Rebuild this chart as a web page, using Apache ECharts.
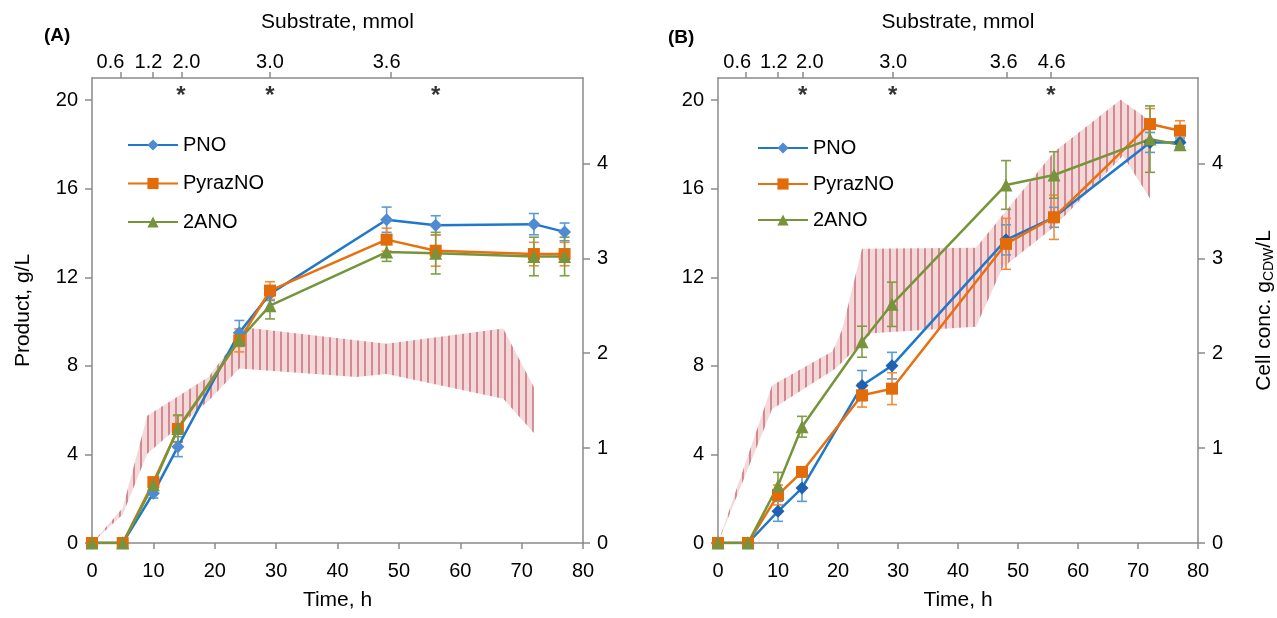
<!DOCTYPE html>
<html><head><meta charset="utf-8">
<script src="https://cdn.jsdelivr.net/npm/echarts@6/dist/echarts.min.js"></script>
<style>html,body{margin:0;padding:0;background:#fff}#c{width:1277px;height:618px}</style>
</head><body><div id="c"></div>
<script>
// ---------- DATA ----------
const seriesNames = ['PNO', 'PyrazNO', '2ANO'];
const xTicks = [0, 10, 20, 30, 40, 50, 60, 70, 80];
const leftTicks = [0, 4, 8, 12, 16, 20];
const rightTicks = [0, 1, 2, 3, 4];

// Panel A
const timeA = [0, 5, 10, 14, 24, 29, 48, 56, 72, 77];
const pnoA = [0, 0, 2.25, 4.35, 9.5, 11.25, 14.6, 14.35, 14.4, 14.05];
const pnoAErr = [0, 0, 0.22, 0.45, 0.55, 0.3, 0.57, 0.43, 0.48, 0.4];
const pyrA = [0, 0, 2.75, 5.15, 9.15, 11.4, 13.7, 13.2, 13.05, 13.05];
const pyrAErr = [0, 0, 0.15, 0.6, 0.52, 0.4, 0.52, 0.7, 0.53, 0.53];
const anoA = [0, 0, 2.63, 5.18, 9.18, 10.72, 13.14, 13.09, 12.94, 12.94];
const anoAErr = [0, 0, 0.15, 0.6, 0.3, 0.6, 0.42, 0.94, 0.87, 0.87];
const bandUpTA = [0, 5, 9, 19, 25, 48, 67, 72];
const bandUpA = [0, 0.37, 1.34, 1.75, 2.27, 2.1, 2.26, 1.64];
const bandLoTA = [0, 5, 9, 19, 24, 43, 48, 67, 72];
const bandLoA = [0, 0.3, 0.94, 1.5, 1.84, 1.75, 1.78, 1.52, 1.16];
const subTickA = [4.7, 9.9, 14.7, 29, 48.7];
const subLabPosA = [3.0, 9.2, 15.4, 29, 48];
const subLabA = ['0.6', '1.2', '2.0', '3.0', '3.6'];
const starTA = [14.5, 29, 56];

// Panel B
const timeB = [0, 5, 10, 14, 24, 29, 48, 56, 72, 77];
const pnoB = [0, 0, 1.43, 2.48, 7.11, 8.01, 13.69, 14.71, 18.09, 18.09];
const pnoBErr = [0, 0, 0.45, 0.6, 0.68, 0.6, 0.68, 0.45, 0.45, 0.2];
const pyrB = [0, 0, 2.17, 3.21, 6.67, 6.97, 13.51, 14.71, 18.92, 18.62];
const pyrBErr = [0, 0, 0.45, 0.2, 0.53, 0.72, 1.15, 1.0, 0.7, 0.45];
const anoB = [0, 0, 2.59, 5.25, 9.09, 10.78, 16.17, 16.62, 18.24, 17.99];
const anoBErr = [0, 0, 0.6, 0.47, 0.7, 1.0, 1.1, 1.05, 1.5, 0.2];
const bandUpTB = [0, 9, 19.1, 20.7, 24, 43, 56, 67.1, 72];
const bandUpB = [0, 1.66, 2.02, 2.25, 3.1, 3.11, 4.12, 4.67, 4.45];
const bandLoTB = [0, 9, 19.6, 25.6, 43, 47.4, 56, 67.5, 72];
const bandLoB = [0, 1.41, 1.84, 2.21, 2.28, 2.9, 3.33, 4.08, 3.63];
const subTickB = [4.6, 10, 14.1, 29.2, 48.1, 55.5];
const subLabPosB = [3.2, 9.3, 15.3, 29.2, 47.6, 55.6];
const subLabB = ['0.6', '1.2', '2.0', '3.0', '3.6', '4.6'];
const starTB = [14.1, 29.1, 55.5];
const starLevel = 20.15;

// ---------- STYLE ----------
const FONT = '"Liberation Sans", Arial, Helvetica, sans-serif';
const AX = '#8a8a8a';
const colLine = {PNO: '#1f78c9', PyrazNO: '#e8700f', '2ANO': '#76953a'};
const colErr = {PNO: '#5b9bd5', PyrazNO: '#f28b3c', '2ANO': '#7f9f44'};
const sym = {PNO: 'diamond', PyrazNO: 'rect', '2ANO': 'triangle'};
const symSize = {PNO: 13, PyrazNO: 12, '2ANO': 13};

const cv = document.createElement('canvas');
cv.width = 7; cv.height = 4;
const cx = cv.getContext('2d');
cx.fillStyle = '#f5d6d8'; cx.fillRect(0, 0, 7, 4);
cx.fillStyle = '#cf848c'; cx.fillRect(0, 0, 2, 4);
const hatch = {image: cv, repeat: 'repeat'};

function lineSeries(name, t, v, xi, yi, markerColor) {
  return {
    type: 'line', name: name, xAxisIndex: xi, yAxisIndex: yi, z: 4,
    data: t.map((x, i) => [x, v[i]]),
    symbol: sym[name], symbolSize: symSize[name],
    lineStyle: {color: colLine[name], width: 2.5},
    itemStyle: {color: markerColor || colLine[name]},
    animation: false
  };
}
function errSeries(name, t, v, e, xi, yi) {
  const c = colErr[name];
  return {
    type: 'custom', name: name + ' err', xAxisIndex: xi, yAxisIndex: yi, z: 3, silent: true,
    data: t.map((x, i) => [x, v[i] - e[i], v[i] + e[i]]),
    encode: {x: 0, y: [1, 2]},
    renderItem: function (params, api) {
      const x = api.value(0), lo = api.value(1), hi = api.value(2);
      if (hi - lo <= 0) return null;
      const a = api.coord([x, lo]), b = api.coord([x, hi]);
      const w = 5, st = {stroke: c, lineWidth: 1.6};
      return {type: 'group', children: [
        {type: 'line', shape: {x1: a[0], y1: a[1], x2: b[0], y2: b[1]}, style: st},
        {type: 'line', shape: {x1: a[0] - w, y1: a[1], x2: a[0] + w, y2: a[1]}, style: st},
        {type: 'line', shape: {x1: b[0] - w, y1: b[1], x2: b[0] + w, y2: b[1]}, style: st}
      ]};
    },
    animation: false
  };
}
function bandSeries(upT, up, loT, lo, xi, yi) {
  return {
    type: 'custom', name: 'cells', xAxisIndex: xi, yAxisIndex: yi, z: 1, silent: true,
    data: [[upT[0], up[0]]], encode: {x: 0, y: 1},
    renderItem: function (params, api) {
      const pts = [];
      upT.forEach((x, i) => pts.push(api.coord([x, up[i]])));
      for (let i = loT.length - 1; i >= 0; i--) pts.push(api.coord([loT[i], lo[i]]));
      return {type: 'polygon', shape: {points: pts}, style: {fill: hatch, opacity: 0.95}};
    },
    animation: false
  };
}
function starSeries(ts, xi, yi) {
  return {
    type: 'scatter', name: 'star', xAxisIndex: xi, yAxisIndex: yi, z: 5, silent: true,
    data: ts.map(x => [x, starLevel]), symbolSize: 1,
    itemStyle: {color: 'rgba(0,0,0,0)'},
    label: {show: true, formatter: '*', position: 'inside', fontSize: 24, fontWeight: 'bold', color: '#000', fontFamily: FONT},
    animation: false
  };
}

const lbl = {color: '#000', fontSize: 20, fontFamily: FONT};
function bottomAxis(gi) {
  return {gridIndex: gi, type: 'value', min: 0, max: 80, interval: 10, position: 'bottom',
    name: 'Time, h', nameLocation: 'middle', nameGap: 47,
    nameTextStyle: {color: '#000', fontSize: 21, fontFamily: FONT},
    axisLine: {show: true, onZero: false, lineStyle: {color: AX, width: 1.5}},
    axisTick: {show: true, length: 6, lineStyle: {color: AX, width: 1.5}},
    axisLabel: Object.assign({margin: 18}, lbl),
    splitLine: {show: false}};
}
function topAxis(gi, tickPos, labPos, labs) {
  return {gridIndex: gi, type: 'value', min: 0, max: 80, position: 'top',
    name: 'Substrate, mmol', nameLocation: 'middle', nameGap: 45,
    nameTextStyle: {color: '#000', fontSize: 21, fontFamily: FONT},
    axisLine: {show: true, onZero: false, lineStyle: {color: AX, width: 1.5}},
    axisTick: {show: true, length: 6, customValues: tickPos, lineStyle: {color: AX, width: 1.5}},
    axisLabel: Object.assign({margin: 6, customValues: labPos,
      formatter: v => { let k = 0, d = 1e9; labPos.forEach((p, i) => { if (Math.abs(p - v) < d) { d = Math.abs(p - v); k = i; } }); return labs[k]; }}, lbl),
    splitLine: {show: false}};
}
function leftAxis(gi, withName) {
  return {gridIndex: gi, type: 'value', min: 0, max: 21, position: 'left',
    name: withName ? 'Product, g/L' : '', nameLocation: 'middle', nameGap: 58,
    nameTextStyle: {color: '#000', fontSize: 21, fontFamily: FONT},
    axisLine: {show: true, onZero: false, lineStyle: {color: AX, width: 1.5}},
    axisTick: {show: true, length: 7, customValues: leftTicks, lineStyle: {color: AX, width: 1.5}},
    axisLabel: Object.assign({margin: 14, customValues: leftTicks}, lbl),
    splitLine: {show: false}};
}
function rightAxis(gi, withName) {
  return {gridIndex: gi, type: 'value', min: 0, max: 4.9, position: 'right',
    name: withName ? '{n|Cell conc. g}{s|CDW}{n|/L}' : '', nameLocation: 'middle', nameGap: 54, nameRotate: 90,
    nameTextStyle: {color: '#000', fontSize: 21, fontFamily: FONT,
      rich: {n: {fontSize: 21, lineHeight: 24, fontFamily: FONT, color: '#000'},
             s: {fontSize: 14, lineHeight: 10, verticalAlign: 'bottom', fontFamily: FONT, color: '#000'}}},
    axisLine: {show: true, onZero: false, lineStyle: {color: AX, width: 1.5}},
    axisTick: {show: true, length: 7, customValues: rightTicks, lineStyle: {color: AX, width: 1.5}},
    axisLabel: Object.assign({margin: 14, customValues: rightTicks}, lbl),
    splitLine: {show: false}};
}
function legendAt(left, top, gap) {
  return {data: seriesNames, left: left, top: top, orient: 'vertical', padding: 0, itemWidth: 50, itemHeight: 14,
    itemGap: gap, selectedMode: false, textStyle: {color: '#000', fontSize: 20, fontFamily: FONT}};
}

const option = {
  animation: false,
  textStyle: {fontFamily: FONT},
  grid: [
    {left: 92, top: 78, width: 491, height: 465},
    {left: 718, top: 78, width: 485, height: 465}
  ],
  xAxis: [bottomAxis(0), topAxis(0, subTickA, subLabPosA, subLabA), bottomAxis(1), topAxis(1, subTickB, subLabPosB, subLabB)],
  yAxis: [leftAxis(0, true), rightAxis(0, false), leftAxis(1, false), rightAxis(1, true)],
  legend: [legendAt(127, 135, 18.5), legendAt(757, 138, 16)],
  graphic: [
    {type: 'text', left: 44, top: 26, style: {text: '(A)', font: 'bold 19px ' + FONT, fill: '#000'}},
    {type: 'text', left: 668, top: 28, style: {text: '(B)', font: 'bold 19px ' + FONT, fill: '#000'}}
  ],
  series: [
    bandSeries(bandUpTA, bandUpA, bandLoTA, bandLoA, 0, 1),
    errSeries('PNO', timeA, pnoA, pnoAErr, 0, 0),
    errSeries('PyrazNO', timeA, pyrA, pyrAErr, 0, 0),
    errSeries('2ANO', timeA, anoA, anoAErr, 0, 0),
    lineSeries('PNO', timeA, pnoA, 0, 0, '#4f8bd0'),
    lineSeries('PyrazNO', timeA, pyrA, 0, 0, '#e36c0a'),
    lineSeries('2ANO', timeA, anoA, 0, 0, '#77933c'),
    starSeries(starTA, 0, 0),
    bandSeries(bandUpTB, bandUpB, bandLoTB, bandLoB, 2, 3),
    errSeries('PNO', timeB, pnoB, pnoBErr, 2, 2),
    errSeries('PyrazNO', timeB, pyrB, pyrBErr, 2, 2),
    errSeries('2ANO', timeB, anoB, anoBErr, 2, 2),
    lineSeries('PNO', timeB, pnoB, 2, 2, '#1f62b2'),
    lineSeries('PyrazNO', timeB, pyrB, 2, 2, '#e36c0a'),
    lineSeries('2ANO', timeB, anoB, 2, 2, '#77933c'),
    starSeries(starTB, 2, 2)
  ]
};
const chart = echarts.init(document.getElementById('c'), null, {renderer: 'canvas'});
chart.setOption(option);
</script>
</body></html>
